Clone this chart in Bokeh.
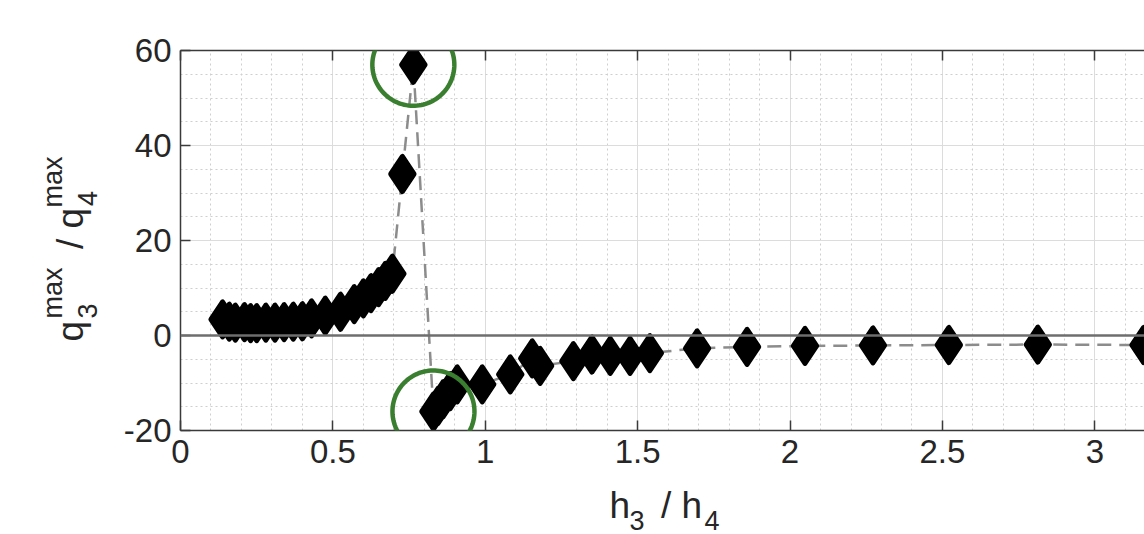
import math
import numpy as np
from bokeh.plotting import figure
from bokeh.models import (Range1d, LinearAxis, SingleIntervalTicker, Span,
                          Label, PolyAnnotation)
from bokeh.embed import file_html
from bokeh.resources import INLINE

# ---------------- data ----------------
h_ratio = [0.138, 0.16, 0.18, 0.21, 0.23, 0.25, 0.28, 0.31, 0.34, 0.37, 0.40,
           0.43, 0.475, 0.525, 0.57, 0.60, 0.625, 0.65, 0.672, 0.695,
           0.728, 0.764,
           0.83, 0.845, 0.862, 0.885, 0.908, 0.99, 1.082, 1.154, 1.18, 1.289,
           1.35, 1.41, 1.475, 1.54, 1.695, 1.859, 2.049, 2.272, 2.521, 2.813,
           3.16]
q_ratio = [3.4, 2.9, 2.7, 2.8, 2.6, 2.6, 2.7, 2.7, 2.8, 2.9, 3.0,
           3.6, 4.2, 5.0, 6.6, 7.8, 8.9, 10.2, 11.5, 13.0,
           34.0, 57.0,
           -16.0, -14.8, -13.4, -11.7, -10.3, -10.3, -8.2, -4.8, -6.4, -5.4,
           -4.0, -4.3, -4.3, -3.7, -2.7, -2.4, -2.2, -2.1, -2.0, -1.9,
           -2.0]

x_ticks = [0, 0.5, 1, 1.5, 2, 2.5, 3]
x_tick_labels = ["0", "0.5", "1", "1.5", "2", "2.5", "3"]
y_ticks = [-20, 0, 20, 40, 60]
y_tick_labels = ["-20", "0", "20", "40", "60"]

# ---------------- layout ----------------
W, H = 1144, 534
L, R, T, B = 180, 0, 50, 104
X0, X1 = 0.0, 3.163
Y0, Y1 = -20.0, 60.0
FONT = "Liberation Sans"
TXT = "#262626"
AX = "#3a3a3a"
NB = "\u00a0"

p = figure(width=W, height=H, x_range=Range1d(X0, X1), y_range=Range1d(Y0, Y1),
           output_backend="svg", toolbar_location=None,
           min_border_left=L, min_border_right=R, min_border_top=T,
           min_border_bottom=B)
p.background_fill_color = "white"
p.border_fill_color = "white"
p.outline_line_color = None

xt = SingleIntervalTicker(interval=0.5, num_minor_ticks=5)
yt = SingleIntervalTicker(interval=20, num_minor_ticks=4)

for ax in (p.xaxis[0], p.yaxis[0]):
    ax.axis_line_color = AX
    ax.axis_line_width = 1.5
    ax.major_tick_line_color = AX
    ax.major_tick_line_width = 1.5
    ax.major_tick_in = 10
    ax.major_tick_out = 0
    ax.minor_tick_in = 0
    ax.minor_tick_out = 0
    ax.major_label_text_font = FONT
    ax.major_label_text_font_size = "33px"
    ax.major_label_text_color = TXT
    ax.major_label_standoff = 9

p.xaxis[0].ticker = xt
p.yaxis[0].ticker = yt
p.xaxis[0].major_label_overrides = {t: s for t, s in zip(x_ticks, x_tick_labels)}
p.yaxis[0].major_label_overrides = {t: s for t, s in zip(y_ticks, y_tick_labels)}

top = LinearAxis(ticker=xt, axis_line_color=AX, axis_line_width=1.5,
                 major_tick_line_color=AX, major_tick_line_width=1.5,
                 major_tick_in=10, major_tick_out=0, minor_tick_in=0,
                 minor_tick_out=0, major_label_standoff=0,
                 major_label_overrides={t: "" for t in x_ticks})
p.add_layout(top, "above")

p.xgrid.ticker = xt
p.ygrid.ticker = yt
for g in (p.xgrid[0], p.ygrid[0]):
    g.grid_line_color = "#dcdcdc"
    g.grid_line_width = 1
    g.minor_grid_line_color = "#cfcfcf"
    g.minor_grid_line_width = 1
    g.minor_grid_line_dash = "2 3"

p.add_layout(Span(location=0, dimension="width", line_color="#6e6e6e",
                  line_width=2.5))

p.line(h_ratio, q_ratio, line_color="#8c8c8c", line_width=2.5, line_dash="14 8")
p.scatter(h_ratio, q_ratio, marker="diamond", size=35, fill_color="black",
          line_color="black", line_width=5, line_join="round")

# pixel -> data helpers (frame geometry is fixed above)
px_x = (W - L - R) / (X1 - X0)
px_y = (H - T - B) / (Y1 - Y0)
FB = H - B  # frame bottom in canvas px


def dx(sx):
    return X0 + (sx - L) / px_x


def dy(sy):
    return Y0 + (FB - sy) / px_y


# ---------------- highlight rings around the extreme points ----------------
ring_r = 41
theta = np.linspace(0, 2 * np.pi, 120)
for idx in (int(np.argmax(q_ratio)), int(np.argmin(q_ratio))):
    cx, cy = h_ratio[idx], q_ratio[idx]
    xs = list(cx + ring_r / px_x * np.cos(theta))
    ys = list(cy + ring_r / px_y * np.sin(theta))
    p.add_layout(PolyAnnotation(xs=xs, ys=ys, fill_alpha=0, fill_color=None,
                                line_color="#3a7f30", line_alpha=1.0,
                                line_width=4.5), "below")

# ---------------- axis labels with sub/superscripts ----------------
# (labels sit in side panels so that they are not clipped to the frame)


def put(txt, sx, sy, size, side, angle=0.0):
    p.add_layout(Label(x=dx(sx), y=dy(sy), x_units="data", y_units="data",
                       text=txt, text_font=FONT, text_font_size=f"{size}px",
                       text_color=TXT, text_align="left",
                       text_baseline="alphabetic", angle=angle), side)


MAIN, SMALL = 37, 27

# x label: h_3 / h_4
put("h" + NB * 3 + "/" + NB + "h", 609, 505, MAIN, "below")
put("3" + NB * 8 + "4", 629, 520, SMALL, "above")

# y label: q_3^max / q_4^max (rotated, reads bottom to top)
A = math.pi / 2
put("q" + NB * 7 + "/" + NB + "q", 70, 341, MAIN, "left", A)
put("max" + NB * 8 + "max", 52, 318, SMALL, "left", A)
put("3" + NB * 13 + "4", 87, 318, SMALL, "left", A)

open("out.html", "w").write(file_html(p, INLINE))
